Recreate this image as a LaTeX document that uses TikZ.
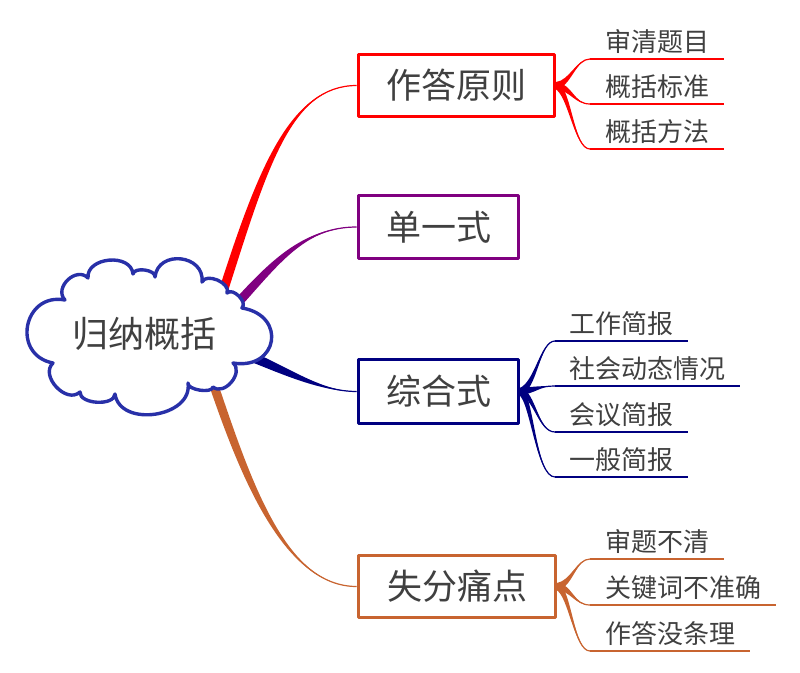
\documentclass[tikz,border=0pt]{standalone}
\usepackage{fontspec}
\newfontfamily\cjkfont{Noto Sans CJK SC}
\usetikzlibrary{calc}
\definecolor{zred}{RGB}{255,0,0}
\definecolor{zpurple}{RGB}{128,0,128}
\definecolor{znavy}{RGB}{0,0,128}
\definecolor{zorange}{RGB}{200,100,48}
\definecolor{cloudblue}{RGB}{40,48,168}
\definecolor{txtgray}{RGB}{64,64,64}
% tapered branch: colour, start, control 1, control 2, end, half width
\newcommand{\taperline}[6]{%
  \coordinate (tpa) at ($(#2)!#6!90:(#3)$);
  \coordinate (tpb) at ($(#2)!#6!-90:(#3)$);
  \fill[#1] (tpa) .. controls ($(#3)+(tpa)-(#2)$) and (#4) .. (#5)
    .. controls (#4) and ($(#3)+(tpb)-(#2)$) .. (tpb) -- cycle;
  \draw[#1,line width=1.2pt] (#2) .. controls (#3) and (#4) .. (#5);
}
\tikzset{
  mainbox/.style={draw,line width=3.6pt,fill=white,text=txtgray,inner sep=0pt,
    font=\cjkfont\fontsize{35}{40}\selectfont,text height=30.8pt,text depth=4.2pt},
  leaf/.style={anchor=south west,text=txtgray,inner xsep=15pt,inner ysep=4.5pt,
    font=\cjkfont\fontsize{26}{30}\selectfont,text height=22.9pt,text depth=3.1pt},
  leafline/.style={line width=1.4pt},
  cloudline/.style={draw=cloudblue,line width=3.4pt,fill=white},
  rootnode/.style={text=txtgray,inner sep=0pt,
    font=\cjkfont\fontsize{36}{42}\selectfont,text height=31.7pt,text depth=4.3pt}
}

\begin{document}
\begin{tikzpicture}[x=1pt,y=-1pt,line join=round]
  \useasboundingbox (0,0) rectangle (800,672);
  % main topics
  \node[mainbox,draw=zred,minimum width=196pt,minimum height=62pt] (zdyz) at (456.5,85.5) {作答原则};
  \node[mainbox,draw=zpurple,minimum width=160pt,minimum height=63pt] (dys) at (438.5,227) {单一式};
  \node[mainbox,draw=znavy,minimum width=160pt,minimum height=64pt] (zhs) at (438.5,391.5) {综合式};
  \node[mainbox,draw=zorange,minimum width=197pt,minimum height=62pt] (sftd) at (457,586.5) {失分痛点};
  % leaves of 作答原则
  \node[leaf] (z1) at (590,59) {审清题目};
  \node[leaf] (z2) at (590,104) {概括标准};
  \node[leaf] (z3) at (590,149) {概括方法};
  % leaves of 综合式
  \node[leaf,inner xsep=14.5pt] (h1) at (555,341) {工作简报};
  \node[leaf,inner xsep=14.5pt] (h2) at (555,386) {社会动态情况};
  \node[leaf,inner xsep=14.5pt] (h3) at (555,432) {会议简报};
  \node[leaf,inner xsep=14.5pt] (h4) at (555,477) {一般简报};
  % leaves of 失分痛点
  \node[leaf] (s1) at (590,559) {审题不清};
  \node[leaf] (s2) at (590,605) {关键词不准确};
  \node[leaf] (s3) at (590,651) {作答没条理};
  % underlines
  \foreach \n in {z1,z2,z3} \draw[leafline,zred] (\n.south west) -- (\n.south east);
  \foreach \n in {h1,h2,h3,h4} \draw[leafline,znavy] (\n.south west) -- (\n.south east);
  \foreach \n in {s1,s2,s3} \draw[leafline,zorange] (\n.south west) -- (\n.south east);
  % forks to the leaves
  \taperline{zred}{zdyz.east}{570,84}{576,59}{z1.south west}{3.5pt}
  \taperline{zred}{zdyz.east}{572,88}{574,104}{z2.south west}{3.5pt}
  \taperline{zred}{zdyz.east}{570,92}{574,149}{z3.south west}{3.5pt}
  \taperline{znavy}{zhs.east}{536,386}{540,341}{h1.south west}{3.5pt}
  \taperline{znavy}{zhs.east}{535,390}{540,386}{h2.south west}{3.5pt}
  \taperline{znavy}{zhs.east}{535,395}{538,432}{h3.south west}{3.5pt}
  \taperline{znavy}{zhs.east}{532,398}{536,477}{h4.south west}{3.5pt}
  \taperline{zorange}{sftd.east}{572,584}{576,559}{s1.south west}{3.5pt}
  \taperline{zorange}{sftd.east}{572,588}{574,605}{s2.south west}{3.5pt}
  \taperline{zorange}{sftd.east}{570,592}{574,651}{s3.south west}{3.5pt}
  % branches from the centre
  \taperline{zred}{222,295}{262,170}{290,85.5}{zdyz.west}{4.5pt}
  \taperline{zpurple}{236,305}{275,262}{305,227}{dys.west}{4.5pt}
  \taperline{znavy}{240,352}{285,370}{320,391.5}{zhs.west}{5pt}
  \taperline{zorange}{212,380}{246,480}{285,586.5}{sftd.west}{4.5pt}
  % cloud
  \draw[cloudline] (65,300) to[bend left=90,looseness=1.35] (88,278)
    to[bend left=90,looseness=1.2] (133,274) to[bend left=90,looseness=0.85] (155,277)
    to[bend left=90,looseness=1.5] (202,282) to[bend left=90,looseness=1.0] (227,293)
    to[bend left=90,looseness=1.0] (242,308) to[bend left=90,looseness=2.1] (233,363)
    to[bend left=90,looseness=1.2] (213,387) to[bend left=90,looseness=0.7] (188,383)
    to[bend left=90,looseness=1.2] (115,394) to[bend left=90,looseness=0.9] (80,392)
    to[bend left=90,looseness=1.2] (53,363) to[bend left=90,looseness=1.7] (65,300) -- cycle;
  \node[rootnode] (gngk) at (144.5,334) {归纳概括};
\end{tikzpicture}
\end{document}
